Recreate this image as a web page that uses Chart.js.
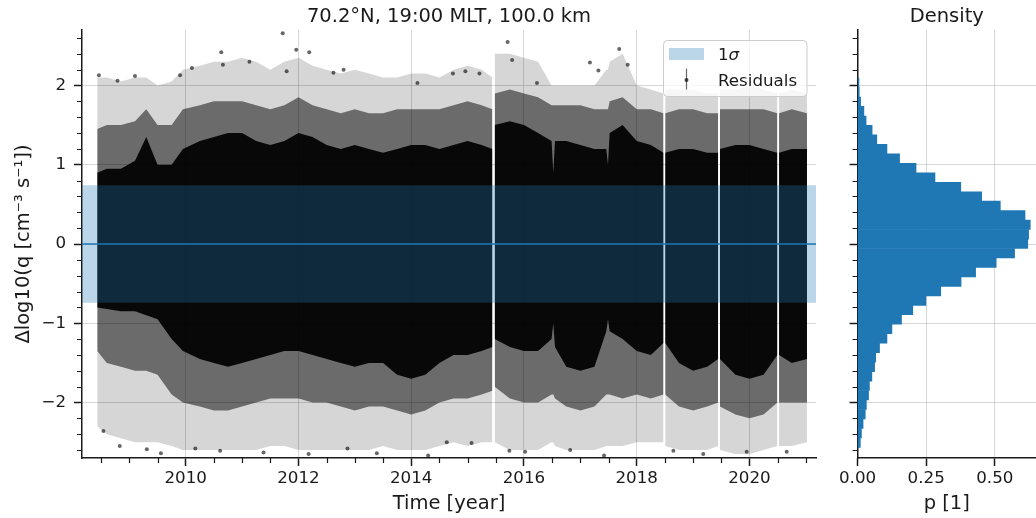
<!DOCTYPE html>
<html>
<head>
<meta charset="utf-8">
<script src="https://cdn.jsdelivr.net/npm/chart.js@4.4.1/dist/chart.umd.min.js"></script>
<style>
  html, body { margin: 0; padding: 0; background: #fff; }
  #wrap { position: relative; width: 1036px; height: 518px; overflow: hidden; }
  #main { position: absolute; left: 0; top: 0; }
  #hist { position: absolute; left: 836px; top: 0; }
</style>
</head>
<body>
<div id="wrap">
  <canvas id="main" width="836" height="518"></canvas>
  <canvas id="hist" width="200" height="518"></canvas>
</div>
<script>
// Residual cloud, summarised as envelopes per time node (null = data gap)
const times = [2008.43, 2008.6, 2008.85, 2009.1, 2009.3, 2009.5, 2009.75, 2009.95, 2010.25, 2010.5,
  2010.75, 2011.0, 2011.25, 2011.5, 2011.75, 2012.0, 2012.25, 2012.5, 2012.75, 2013.0,
  2013.25, 2013.5, 2013.75, 2014.0, 2014.25, 2014.5, 2014.75, 2015.0, 2015.25, 2015.44,
  2015.46, 2015.48, 2015.75, 2016.0, 2016.25, 2016.49, 2016.52, 2016.55, 2016.75, 2017.0,
  2017.25, 2017.46, 2017.49, 2017.52, 2017.75, 2018.0, 2018.25, 2018.475, 2018.49, 2018.505,
  2018.75, 2019.0, 2019.25, 2019.445, 2019.46, 2019.475, 2019.75, 2020.0, 2020.25, 2020.495,
  2020.51, 2020.525, 2020.75, 2021.02];
const denseHi = [0.9, 0.95, 0.95, 1.05, 1.35, 1.0, 1.0, 1.2, 1.3, 1.35,
  1.4, 1.4, 1.3, 1.25, 1.3, 1.4, 1.35, 1.25, 1.2, 1.25,
  1.2, 1.15, 1.2, 1.25, 1.25, 1.2, 1.25, 1.3, 1.25, 1.2,
  null, 1.5, 1.55, 1.5, 1.4, 1.3, 0.9, 1.3, 1.3, 1.25,
  1.2, 1.2, 1.0, 1.4, 1.5, 1.3, 1.25, 1.15, null, 1.15,
  1.2, 1.2, 1.15, 1.15, null, 1.2, 1.25, 1.25, 1.2, 1.15,
  null, 1.15, 1.2, 1.2];
const denseLo = [-0.8, -0.82, -0.85, -0.85, -0.9, -0.95, -1.2, -1.35, -1.45, -1.5,
  -1.55, -1.5, -1.45, -1.4, -1.35, -1.35, -1.4, -1.45, -1.5, -1.55,
  -1.5, -1.5, -1.65, -1.7, -1.65, -1.5, -1.4, -1.4, -1.35, -1.3,
  null, -1.2, -1.3, -1.35, -1.35, -1.2, -1.0, -1.3, -1.55, -1.6,
  -1.55, -1.1, -0.95, -1.1, -1.2, -1.35, -1.4, -1.25, null, -1.25,
  -1.5, -1.6, -1.55, -1.45, null, -1.45, -1.65, -1.7, -1.65, -1.4,
  null, -1.4, -1.5, -1.45];
const midHi = [1.45, 1.5, 1.5, 1.55, 1.7, 1.5, 1.5, 1.7, 1.75, 1.8,
  1.8, 1.8, 1.75, 1.7, 1.75, 1.85, 1.75, 1.7, 1.65, 1.7,
  1.65, 1.65, 1.7, 1.7, 1.7, 1.7, 1.75, 1.8, 1.75, 1.7,
  null, 1.9, 1.95, 1.9, 1.85, 1.75, 1.75, 1.75, 1.75, 1.75,
  1.7, 1.7, 1.7, 1.8, 1.85, 1.7, 1.7, 1.65, null, 1.65,
  1.7, 1.7, 1.65, 1.65, null, 1.7, 1.7, 1.7, 1.7, 1.65,
  null, 1.65, 1.7, 1.65];
const midLo = [-1.35, -1.5, -1.55, -1.6, -1.6, -1.65, -1.9, -2.0, -2.05, -2.1,
  -2.1, -2.05, -2.0, -1.95, -1.95, -1.95, -2.0, -2.0, -2.05, -2.1,
  -2.05, -2.05, -2.1, -2.15, -2.1, -2.0, -1.95, -1.95, -1.9, -1.85,
  null, -1.8, -1.95, -2.0, -2.0, -1.9, -1.9, -1.95, -2.05, -2.1,
  -2.05, -1.9, -1.9, -1.9, -1.95, -1.9, -1.95, -1.9, null, -1.9,
  -2.05, -2.1, -2.05, -2.0, null, -2.05, -2.15, -2.2, -2.15, -2.0,
  null, -2.0, -2.0, -2.0];
const sparseHi = [2.1, 2.1, 2.05, 2.1, 2.1, 2.0, 2.05, 2.2, 2.25, 2.3,
  2.3, 2.35, 2.3, 2.2, 2.3, 2.35, 2.25, 2.2, 2.15, 2.2,
  2.15, 2.1, 2.1, 2.15, 2.15, 2.1, 2.2, 2.25, 2.2, 2.1,
  null, 2.4, 2.4, 2.35, 2.3, 2.0, 2.0, 2.0, 2.0, 2.0,
  2.0, 2.2, 2.2, 2.3, 2.4, 2.0, 1.95, 1.9, null, 1.95,
  1.95, 1.95, 1.9, 1.9, null, 1.95, 1.95, 2.0, 1.95, 1.9,
  null, 1.9, 1.95, 1.9];
const sparseLo = [-2.3, -2.4, -2.45, -2.5, -2.5, -2.5, -2.55, -2.6, -2.6, -2.6,
  -2.6, -2.6, -2.6, -2.55, -2.55, -2.6, -2.6, -2.6, -2.6, -2.6,
  -2.6, -2.55, -2.6, -2.6, -2.6, -2.55, -2.5, -2.55, -2.5, -2.5,
  null, -2.5, -2.6, -2.6, -2.6, -2.5, -2.5, -2.55, -2.6, -2.6,
  -2.6, -2.55, -2.55, -2.55, -2.55, -2.5, -2.5, -2.5, null, -2.55,
  -2.6, -2.6, -2.6, -2.55, null, -2.6, -2.65, -2.65, -2.6, -2.55,
  null, -2.55, -2.55, -2.5];

// isolated extreme residuals
const outlierYears = [2011.72, 2011.96, 2012.19, 2010.63, 2011.13, 2010.11, 2009.10, 2008.46, 2008.79, 2012.62,
  2012.80, 2009.90, 2010.66, 2011.79, 2015.71, 2015.79, 2014.74, 2014.96, 2017.17, 2017.69,
  2017.32, 2017.84, 2015.21, 2014.11, 2016.23,
  2008.54, 2008.83, 2009.56, 2010.17, 2010.61, 2011.38, 2012.18, 2012.87, 2013.39, 2009.31,
  2015.74, 2016.02, 2016.82, 2017.42, 2018.65, 2019.18, 2019.95, 2020.66, 2014.63, 2015.07, 2014.30];
const outlierValues = [2.66, 2.45, 2.42, 2.42, 2.30, 2.22, 2.12, 2.13, 2.06, 2.16,
  2.20, 2.13, 2.26, 2.18, 2.55, 2.32, 2.15, 2.18, 2.29, 2.46,
  2.19, 2.26, 2.15, 2.03, 2.03,
  -2.36, -2.55, -2.64, -2.58, -2.61, -2.63, -2.65, -2.58, -2.64, -2.59,
  -2.61, -2.62, -2.60, -2.67, -2.61, -2.65, -2.62, -2.62, -2.50, -2.51, -2.67];

const sigma = 0.74;

// histogram of residuals (density per bin)
const binCenters = [-2.506, -2.387, -2.267, -2.148, -2.028, -1.909, -1.789, -1.670, -1.550, -1.431,
  -1.311, -1.192, -1.072, -0.953, -0.833, -0.714, -0.594, -0.475, -0.355, -0.236,
  -0.116, 0.003, 0.122, 0.242, 0.361, 0.481, 0.600, 0.720, 0.839, 0.959,
  1.078, 1.198, 1.317, 1.437, 1.556, 1.676, 1.795, 1.915, 2.034];
const density = [0.010, 0.014, 0.020, 0.028, 0.032, 0.040, 0.043, 0.052, 0.062, 0.066,
  0.080, 0.107, 0.125, 0.160, 0.201, 0.249, 0.303, 0.377, 0.430, 0.505,
  0.572, 0.620, 0.623, 0.629, 0.610, 0.520, 0.452, 0.376, 0.282, 0.213,
  0.153, 0.107, 0.070, 0.053, 0.031, 0.023, 0.011, 0.006, 0.005];

const xMin = 2008.16, xMax = 2021.18;
const yMin = -2.7, yMax = 2.7;
const yearTicks = [2010, 2012, 2014, 2016, 2018, 2020];
const yearMinor = [2008.5, 2009, 2009.5, 2010.5, 2011, 2011.5, 2012.5, 2013, 2013.5, 2014.5, 2015, 2015.5,
  2016.5, 2017, 2017.5, 2018.5, 2019, 2019.5, 2020.5, 2021];
const valueTicks = [-2, -1, 0, 1, 2];
const valueMinor = [-2.6, -2.4, -2.2, -1.8, -1.6, -1.4, -1.2, -0.8, -0.6, -0.4, -0.2,
  0.2, 0.4, 0.6, 0.8, 1.2, 1.4, 1.6, 1.8, 2.2, 2.4, 2.6];
const pTicks = [0, 0.25, 0.5];

const FONT = "'DejaVu Sans', sans-serif";
const INK = '#1a1a1a';
const GRID = 'rgba(176,176,176,0.5)';
Chart.defaults.font.family = FONT;
Chart.defaults.color = INK;
Chart.defaults.animation = false;

const minus = v => String(v).replace('-', '\u2212');

const panelTitle = {
  id: 'panelTitle',
  afterDraw(chart, args, opts) {
    const { ctx, chartArea: a } = chart;
    ctx.save();
    ctx.font = `19.5px ${FONT}`;
    ctx.fillStyle = INK;
    ctx.textAlign = 'center';
    ctx.textBaseline = 'alphabetic';
    ctx.fillText(opts.text, (a.left + a.right) / 2, 21.7);
    ctx.restore();
  }
};

const minorTicks = {
  id: 'minorTicks',
  afterDraw(chart, args, opts) {
    const { ctx, chartArea: a, scales } = chart;
    ctx.save();
    ctx.strokeStyle = INK;
    ctx.lineWidth = 1.2;
    ctx.beginPath();
    (opts.y || []).forEach(v => {
      const py = Math.round(scales.y.getPixelForValue(v)) + 0.5;
      ctx.moveTo(a.left - 5, py); ctx.lineTo(a.left, py);
    });
    (opts.x || []).forEach(v => {
      const px = Math.round(scales.x.getPixelForValue(v)) + 0.5;
      ctx.moveTo(px, a.bottom); ctx.lineTo(px, a.bottom + 5);
    });
    ctx.stroke();
    ctx.restore();
  }
};

const boxLegend = {
  id: 'boxLegend',
  afterDraw(chart) {
    const { ctx, chartArea: a } = chart;
    const bx = a.right - 153, by = a.top + 10, bw = 143.5, bh = 56;
    ctx.save();
    ctx.beginPath();
    ctx.roundRect(bx + 0.5, by + 0.5, bw, bh, 4);
    ctx.fillStyle = 'rgba(255,255,255,0.8)';
    ctx.fill();
    ctx.strokeStyle = '#cccccc';
    ctx.lineWidth = 1;
    ctx.stroke();
    // 1 sigma patch
    ctx.fillStyle = 'rgba(31,119,180,0.3)';
    ctx.fillRect(bx + 6, by + 8, 35, 12);
    // residual marker with error bar
    ctx.strokeStyle = 'rgba(0,0,0,0.6)';
    ctx.lineWidth = 1.2;
    ctx.beginPath();
    ctx.moveTo(bx + 23.5, by + 28.5); ctx.lineTo(bx + 23.5, by + 49.5);
    ctx.stroke();
    ctx.fillStyle = 'rgba(0,0,0,0.7)';
    ctx.beginPath();
    ctx.arc(bx + 23.5, by + 40, 2, 0, Math.PI * 2);
    ctx.fill();
    // texts
    ctx.fillStyle = INK;
    ctx.textAlign = 'left';
    ctx.textBaseline = 'alphabetic';
    ctx.font = `16.7px ${FONT}`;
    ctx.fillText('1', bx + 55, by + 20);
    const w1 = ctx.measureText('1').width;
    ctx.font = `italic 16.7px ${FONT}`;
    ctx.fillText('\u03c3', bx + 55 + w1, by + 20);
    ctx.font = `16.7px ${FONT}`;
    ctx.fillText('Residuals', bx + 55, by + 46);
    ctx.restore();
  }
};

const toPts = vals => times.map((t, i) => ({ x: t, y: vals[i] }));
const band = (hi, lo, color, order) => [
  { data: toPts(hi), fill: '+1', backgroundColor: color, borderColor: 'rgba(0,0,0,0)', borderWidth: 0, pointRadius: 0, order },
  { data: toPts(lo), fill: false, borderColor: 'rgba(0,0,0,0)', borderWidth: 0, pointRadius: 0, order }
];

const tickStyle = { tickLength: 8, tickWidth: 1.5, tickColor: INK };

new Chart(document.getElementById('main'), {
  type: 'line',
  data: {
    datasets: [
      { data: [{ x: xMin, y: 0 }, { x: xMax, y: 0 }], borderColor: '#1f77b4', borderWidth: 1.6, pointRadius: 0, fill: false, order: 0 },
      { data: [{ x: xMin, y: sigma }, { x: xMax, y: sigma }], fill: '+1', backgroundColor: 'rgba(31,119,180,0.3)', borderColor: 'rgba(0,0,0,0)', borderWidth: 0, pointRadius: 0, order: 1 },
      { data: [{ x: xMin, y: -sigma }, { x: xMax, y: -sigma }], fill: false, borderColor: 'rgba(0,0,0,0)', borderWidth: 0, pointRadius: 0, order: 1 },
      { data: outlierYears.map((t, i) => ({ x: t, y: outlierValues[i] })), showLine: false, pointRadius: 2, pointBorderWidth: 0,
        pointBackgroundColor: 'rgba(0,0,0,0.6)', order: 2 },
      ...band(denseHi, denseLo, 'rgba(0,0,0,0.92)', 3),
      ...band(midHi, midLo, 'rgba(0,0,0,0.5)', 4),
      ...band(sparseHi, sparseLo, 'rgba(0,0,0,0.16)', 5)
    ]
  },
  options: {
    responsive: false,
    devicePixelRatio: 1,
    layout: { padding: { left: 0, right: 20, top: 30, bottom: 0 } },
    elements: { line: { tension: 0 } },
    plugins: {
      legend: { display: false },
      tooltip: { enabled: false },
      panelTitle: { text: '70.2\u00b0N, 19:00 MLT, 100.0 km' },
      minorTicks: { x: yearMinor, y: valueMinor }
    },
    scales: {
      x: {
        type: 'linear', min: xMin, max: xMax,
        afterBuildTicks: s => { s.ticks = yearTicks.map(v => ({ value: v })); },
        afterFit: s => { s.height = 60; },
        ticks: { callback: v => String(v), font: { size: 16.7 }, padding: 3, maxRotation: 0 },
        grid: { color: GRID, lineWidth: 1, ...tickStyle },
        border: { color: INK, width: 1.5 },
        title: { display: true, text: 'Time [year]', font: { size: 19.5 }, padding: { top: 0, bottom: 2 } }
      },
      y: {
        type: 'linear', min: yMin, max: yMax,
        afterBuildTicks: s => { s.ticks = valueTicks.map(v => ({ value: v })); },
        afterFit: s => { s.width = 82; },
        ticks: { callback: v => minus(v), font: { size: 16.7 }, padding: 8 },
        grid: { color: GRID, lineWidth: 1, ...tickStyle },
        border: { color: INK, width: 1.5 },
        title: { display: true, text: '\u0394log10(q [cm\u207b\u00b3 s\u207b\u00b9])', font: { size: 19.5 }, padding: { top: 12, bottom: 0 } }
      }
    }
  },
  plugins: [panelTitle, minorTicks, boxLegend]
});

new Chart(document.getElementById('hist'), {
  type: 'bar',
  data: {
    datasets: [{
      data: binCenters.map((c, i) => ({ x: density[i], y: c })),
      backgroundColor: '#1f77b4', borderWidth: 0, barPercentage: 1, categoryPercentage: 1
    }]
  },
  options: {
    responsive: false,
    devicePixelRatio: 1,
    indexAxis: 'y',
    layout: { padding: { left: 0, right: 0, top: 30, bottom: 0 } },
    plugins: {
      legend: { display: false },
      tooltip: { enabled: false },
      panelTitle: { text: 'Density' },
      minorTicks: { y: valueMinor }
    },
    scales: {
      x: {
        type: 'linear', min: 0, max: 0.65, z: 1,
        afterBuildTicks: s => { s.ticks = pTicks.map(v => ({ value: v })); },
        afterFit: s => { s.height = 60; },
        ticks: { callback: v => v.toFixed(2), font: { size: 16.7 }, padding: 3, maxRotation: 0 },
        grid: { color: GRID, lineWidth: 1, ...tickStyle },
        border: { color: INK, width: 1.5 },
        title: { display: true, text: 'p [1]', font: { size: 19.5 }, padding: { top: 0, bottom: 2 } }
      },
      y: {
        type: 'linear', min: yMin, max: yMax, z: 1, offset: false,
        afterBuildTicks: s => { s.ticks = valueTicks.map(v => ({ value: v })); },
        afterFit: s => { s.width = 20; },
        ticks: { callback: () => '', padding: 0 },
        grid: { color: GRID, lineWidth: 1, offset: false, ...tickStyle },
        border: { color: INK, width: 1.5 }
      }
    }
  },
  plugins: [panelTitle, minorTicks]
});
</script>
</body>
</html>
